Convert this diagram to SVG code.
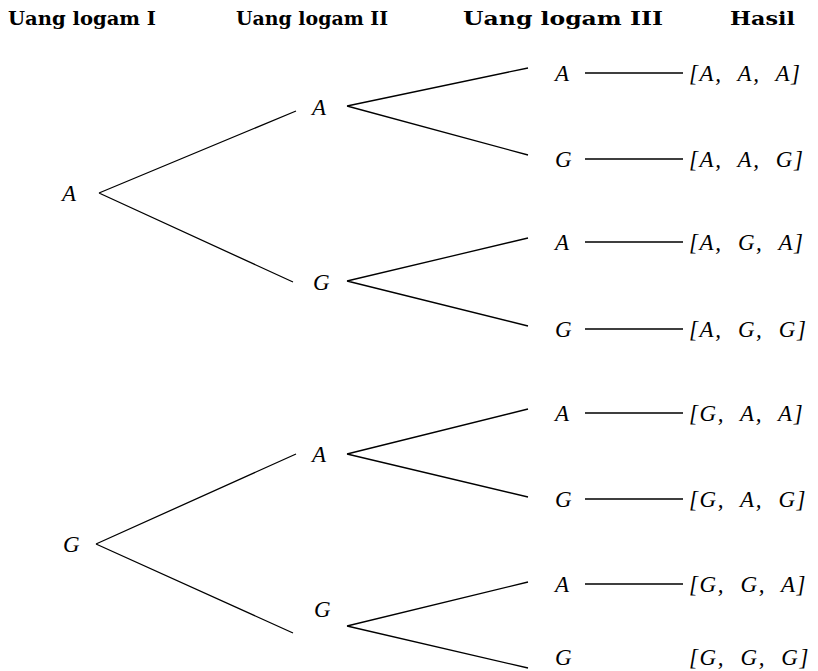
<svg xmlns="http://www.w3.org/2000/svg" width="818" height="671" viewBox="0 0 818 671">
<style>
.hdr{font-family:"DejaVu Serif","Liberation Serif",serif;font-weight:bold;font-size:19px;fill:#000}
.lbl{font-family:"Liberation Serif",serif;font-style:italic;font-size:23px;fill:#000}
.res{font-family:"Liberation Serif",serif;font-style:italic;font-size:23px;fill:#000;word-spacing:8px;letter-spacing:1.6px}
.ln{stroke:#000;stroke-width:1.3;fill:none}
</style>
<rect width="818" height="671" fill="#fff"/>
<g id="headers">
<text class="hdr" x="8" y="25" textLength="148" lengthAdjust="spacingAndGlyphs">Uang logam I</text>
<text class="hdr" x="236" y="25" textLength="152" lengthAdjust="spacingAndGlyphs">Uang logam II</text>
<text class="hdr" x="463" y="25" textLength="200" lengthAdjust="spacingAndGlyphs">Uang logam III</text>
<text class="hdr" x="730" y="25" textLength="65" lengthAdjust="spacingAndGlyphs">Hasil</text>
</g>
<g id="connectors">
<path class="ln" d="M99 193 L296 111 M99 193 L293 282"/>
<path class="ln" d="M96 544 L296 454 M96 544 L293 633"/>
<path class="ln" d="M347 106 L528 68 M347 106 L528 155"/>
<path class="ln" d="M347 281 L528 238 M347 281 L528 326"/>
<path class="ln" d="M347 454 L528 409 M347 454 L528 497"/>
<path class="ln" d="M347 626 L528 582 M347 626 L528 668"/>
<path class="ln" d="M585 73 H683 M585 159 H683 M585 242 H683 M585 329 H683 M585 413 H683 M585 499 H683 M585 584 H683"/>
</g>
<g id="n-A"><text class="lbl" x="62" y="201">A</text></g>
<g id="n-G"><text class="lbl" x="63" y="552">G</text></g>
<g id="n-AA"><text class="lbl" x="312" y="115">A</text></g>
<g id="n-AG"><text class="lbl" x="313" y="290">G</text></g>
<g id="n-GA"><text class="lbl" x="312" y="462">A</text></g>
<g id="n-GG"><text class="lbl" x="314" y="617">G</text></g>
<g id="n-AAA"><text class="lbl" x="555" y="81">A</text><text class="res" x="689" y="81">[A, A, A]</text></g>
<g id="n-AAG"><text class="lbl" x="555" y="167">G</text><text class="res" x="689" y="167">[A, A, G]</text></g>
<g id="n-AGA"><text class="lbl" x="555" y="250">A</text><text class="res" x="689" y="250">[A, G, A]</text></g>
<g id="n-AGG"><text class="lbl" x="555" y="337">G</text><text class="res" x="689" y="337">[A, G, G]</text></g>
<g id="n-GAA"><text class="lbl" x="555" y="421">A</text><text class="res" x="689" y="421">[G, A, A]</text></g>
<g id="n-GAG"><text class="lbl" x="555" y="507">G</text><text class="res" x="689" y="507">[G, A, G]</text></g>
<g id="n-GGA"><text class="lbl" x="555" y="592">A</text><text class="res" x="689" y="592">[G, G, A]</text></g>
<g id="n-GGG"><text class="lbl" x="555" y="665">G</text><text class="res" x="689" y="665">[G, G, G]</text></g>
</svg>
